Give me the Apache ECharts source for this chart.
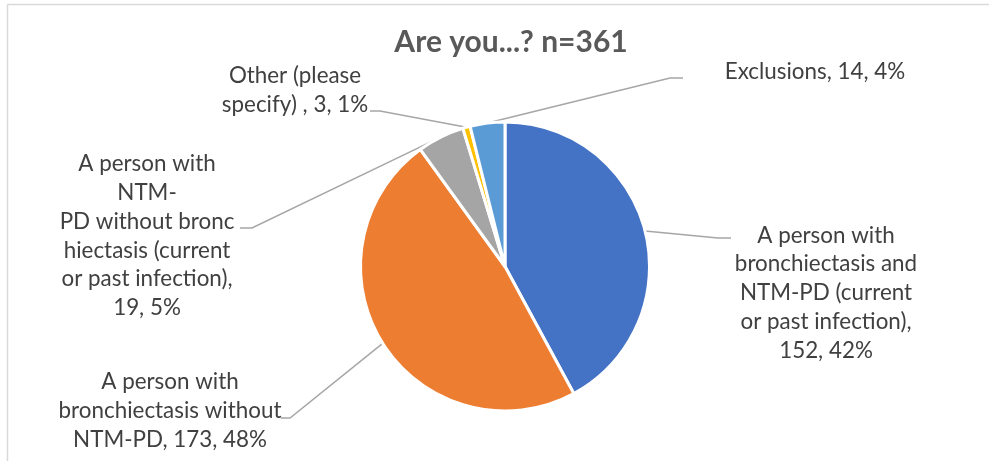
<!DOCTYPE html>
<html>
<head>
<meta charset="utf-8">
<script src="https://cdn.jsdelivr.net/npm/echarts@6/dist/echarts.min.js"></script>
<style>
  html, body { margin: 0; padding: 0; background: #ffffff; }
  #chart { width: 989px; height: 461px; }
</style>
</head>
<body>
<div id="chart"></div>
<script>
// Survey answers, in slice order (clockwise from 12 o'clock)
const categories = [
  'A person with\nbronchiectasis and\nNTM-PD (current\nor past infection)',
  'A person with\nbronchiectasis without\nNTM-PD',
  'A person with\nNTM-\nPD without bronc\nhiectasis (current\nor past infection)',
  'Other (please\nspecify) ',
  'Exclusions'
];
const values = [152, 173, 19, 3, 14];
const valueOnNewLine = [true, false, true, false, false];
const titleText = 'Are you...? n=361';

const colors = ['#4472C4', '#ED7D31', '#A5A5A5', '#FFC000', '#5B9BD5'];
const total = values.reduce((a, b) => a + b, 0);

// Where each callout sits, and the bend/end of its leader line
const callouts = [
  { x: 826, y: 293, bend: [718, 238], end: [731, 238] },
  { x: 170, y: 411, bend: [290, 418], end: [281, 418] },
  { x: 147, y: 236, bend: [252, 228], end: [240, 228] },
  { x: 295, y: 90,  bend: [380, 111], end: [370, 111] },
  { x: 815, y: 72,  bend: [670, 78],  end: [683, 78] }
];

const chart = echarts.init(document.getElementById('chart'), null, { renderer: 'canvas' });

chart.setOption({
  animation: false,
  backgroundColor: '#ffffff',
  title: {
    text: titleText,
    left: 506,
    textAlign: 'center',
    top: 22,
    textStyle: {
      fontFamily: 'Lato',
      fontWeight: 'bold',
      fontSize: 30,
      color: '#595959'
    }
  },
  graphic: [
    { type: 'line', shape: { x1: 7.5, y1: 4.5, x2: 989, y2: 4.5 },
      style: { stroke: '#D9D9D9', lineWidth: 1.5 }, silent: true },
    { type: 'line', shape: { x1: 7.5, y1: 4.5, x2: 7.5, y2: 461 },
      style: { stroke: '#D9D9D9', lineWidth: 1.5 }, silent: true }
  ],
  series: [{
    type: 'pie',
    center: [505, 266.5],
    radius: 144.5,
    startAngle: 90,
    clockwise: true,
    avoidLabelOverlap: false,
    data: categories.map((name, i) => ({
      name: name,
      value: values[i],
      itemStyle: { color: colors[i] }
    })),
    itemStyle: { borderColor: '#ffffff', borderWidth: 3 },
    label: {
      show: true,
      position: 'outside',
      fontFamily: 'Lato',
      fontSize: 22.4,
      lineHeight: 28.8,
      color: '#404040',
      align: 'center',
      formatter: (p) => {
        const pct = Math.round(p.value / total * 100);
        const sep = valueOnNewLine[p.dataIndex] ? ',\n' : ', ';
        return p.name + sep + p.value + ', ' + pct + '%';
      }
    },
    labelLine: {
      show: true,
      length: 20,
      length2: 10,
      lineStyle: { color: '#A6A6A6', width: 1.5 }
    },
    labelLayout: (params) => {
      const c = callouts[params.dataIndex];
      const pts = params.labelLinePoints;
      return {
        x: c.x,
        y: c.y,
        align: 'center',
        verticalAlign: 'middle',
        labelLinePoints: [pts[0], c.bend, c.end]
      };
    },
    emphasis: { disabled: true }
  }]
});
</script>
</body>
</html>
